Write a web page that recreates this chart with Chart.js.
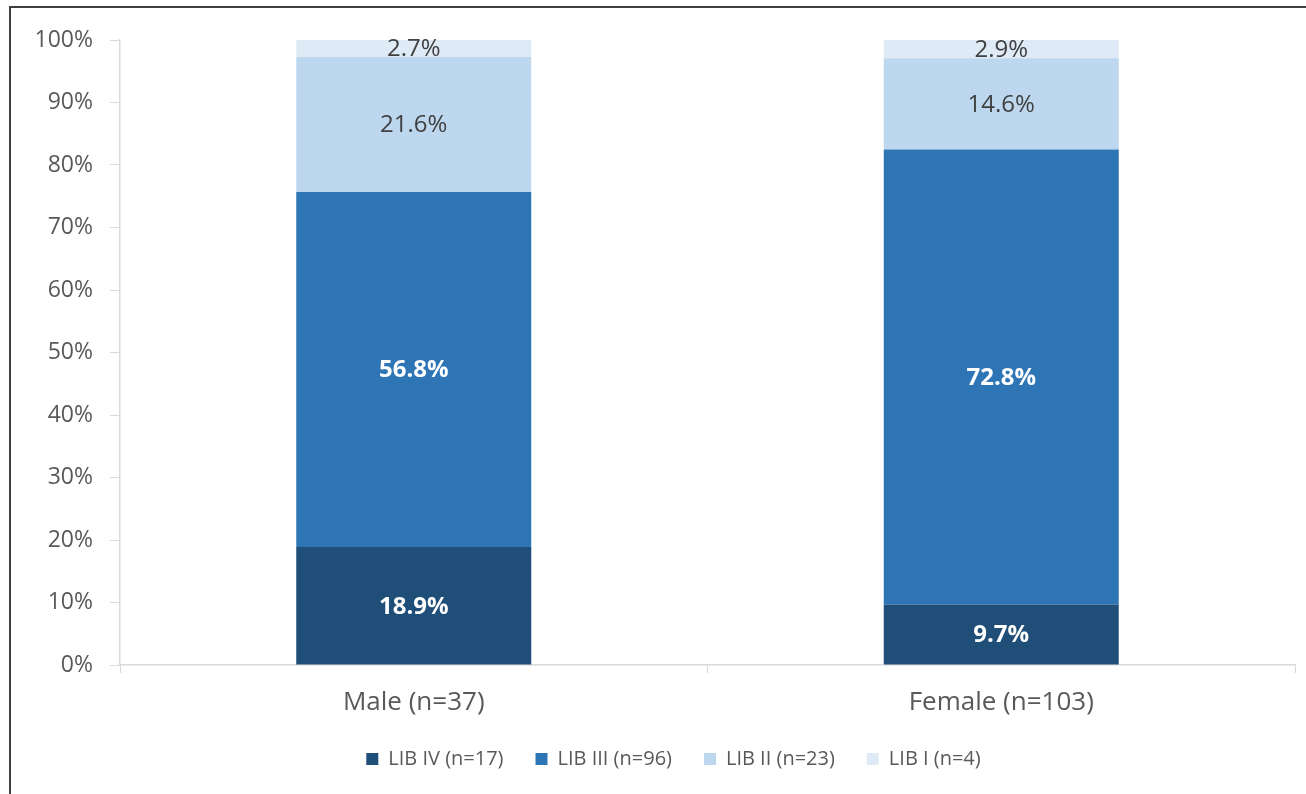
<!DOCTYPE html>
<html>
<head>
<meta charset="utf-8">
<script src="https://cdn.jsdelivr.net/npm/chart.js@4"></script>
<style>
  html, body { margin: 0; padding: 0; background: #fff; }
  #wrap { position: relative; width: 1306px; height: 794px; overflow: hidden; }
  #frame { position: absolute; left: 9px; top: 6px; width: 1400px; height: 900px;
           border-left: 2px solid #3f3f3f; border-top: 2px solid #3f3f3f; box-sizing: border-box; }
  #chart { position: absolute; left: 0; top: 0; }
</style>
</head>
<body>
<div id="wrap">
  <div id="frame"></div>
  <canvas id="chart" width="1306" height="794"></canvas>
</div>
<script>
const groups = ['Male (n=37)', 'Female (n=103)'];
const seriesNames = ['LIB IV (n=17)', 'LIB III (n=96)', 'LIB II (n=23)', 'LIB I (n=4)'];
const libIV = [18.9, 9.7];
const libIII = [56.8, 72.8];
const libII = [21.6, 14.6];
const libI = [2.7, 2.9];
const yTicks = [0, 10, 20, 30, 40, 50, 60, 70, 80, 90, 100];

const fill = ['#1f4e79', '#2e75b6', '#bdd7ee', '#deebf7'];
const labelColor = ['#ffffff', '#ffffff', '#404040', '#404040'];
const labelWeight = ['bold', 'bold', 'normal', 'normal'];
const FONT = '"Open Sans", sans-serif';

// writes each segment's percentage in the middle of its bar piece
const segmentLabels = {
    id: 'segmentLabels',
    afterLayout(chart) {
        // nudge the legend row a little to the right
        chart.legend.left += 16;
        chart.legend.right += 16;
    },
    afterDatasetsDraw(chart) {
        const ctx = chart.ctx;
        ctx.save();
        ctx.textAlign = 'center';
        ctx.textBaseline = 'middle';
        chart.data.datasets.forEach((ds, i) => {
            const meta = chart.getDatasetMeta(i);
            meta.data.forEach((bar, j) => {
                const p = bar.getProps(['x', 'y', 'base'], true);
                ctx.font = labelWeight[i] + ' 24px ' + FONT;
                ctx.fillStyle = labelColor[i];
                ctx.fillText(ds.data[j].toFixed(1) + '%', p.x, (p.y + p.base) / 2 + 1);
            });
        });
        ctx.restore();
    }
};

const datasets = [libIV, libIII, libII, libI].map((vals, i) => ({
    label: seriesNames[i],
    data: vals,
    backgroundColor: fill[i],
    borderWidth: 0,
    barPercentage: 0.4,
    categoryPercentage: 1
}));

new Chart(document.getElementById('chart'), {
    type: 'bar',
    data: { labels: groups, datasets: datasets },
    options: {
        responsive: false,
        animation: false,
        layout: { padding: { left: 20, right: 11, top: 40, bottom: 15 } },
        plugins: {
            tooltip: { enabled: false },
            legend: {
                position: 'bottom',
                labels: {
                    boxWidth: 12,
                    boxHeight: 12,
                    padding: 32,
                    color: '#595959',
                    font: { family: FONT, size: 20 }
                }
            }
        },
        scales: {
            x: {
                stacked: true,
                afterFit: scale => { scale.height = 52; },
                grid: { drawOnChartArea: false, color: '#d9d9d9', tickLength: 8, offset: true },
                border: { color: '#d9d9d9', width: 1.5 },
                ticks: { color: '#595959', font: { family: FONT, size: 26 }, padding: 14 }
            },
            y: {
                stacked: true,
                min: 0,
                max: 100,
                afterBuildTicks: scale => { scale.ticks = yTicks.map(v => ({ value: v })); },
                afterFit: scale => { scale.width = 100; },
                grid: { drawOnChartArea: false, color: '#d9d9d9', tickLength: 10 },
                border: { color: '#d9d9d9', width: 1.5 },
                ticks: {
                    color: '#595959',
                    font: { family: FONT, size: 23 },
                    padding: 17,
                    callback: v => v + '%'
                }
            }
        }
    },
    plugins: [segmentLabels]
});
</script>
</body>
</html>
